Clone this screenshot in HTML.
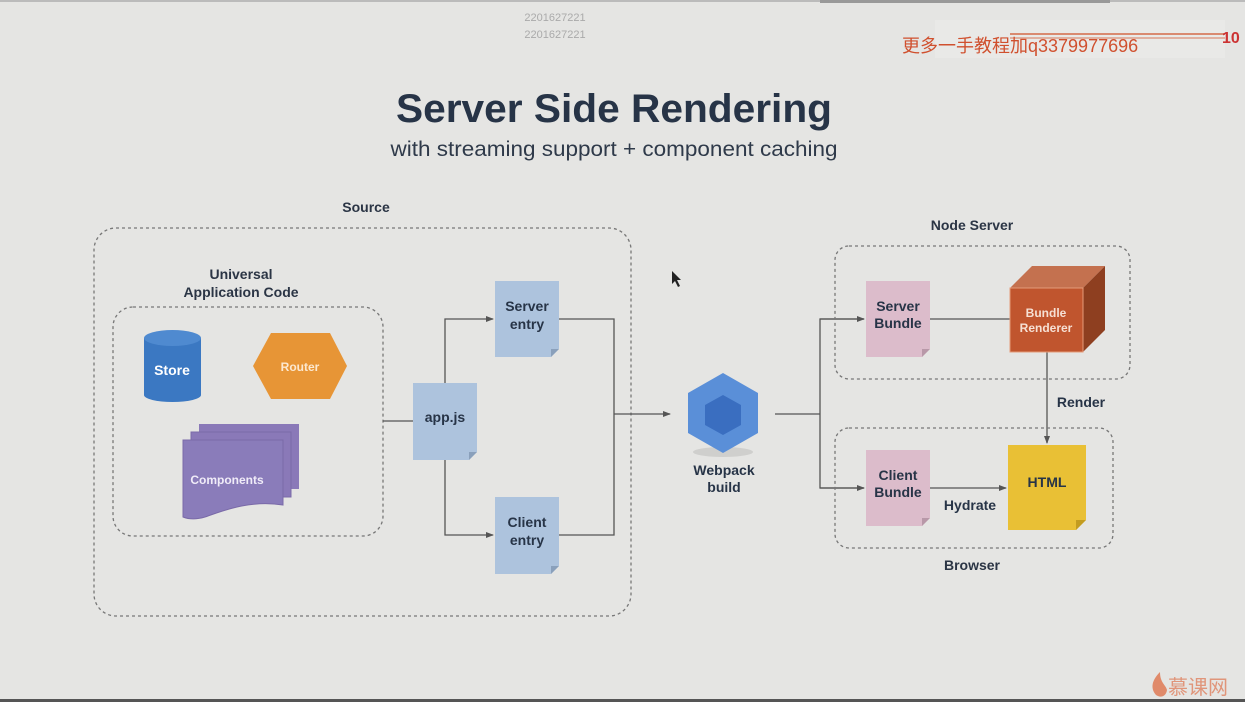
<!DOCTYPE html>
<html><head><meta charset="utf-8"><style>
html,body{margin:0;padding:0;background:#e5e5e3;}
svg{display:block;}
text{font-family:"Liberation Sans","Noto Sans CJK SC",sans-serif;}
</style></head><body>
<svg width="1245" height="702" viewBox="0 0 1245 702" xmlns="http://www.w3.org/2000/svg">
<defs>
<marker id="ar" markerWidth="8" markerHeight="8" refX="7" refY="4" orient="auto" markerUnits="userSpaceOnUse"><path d="M0,1 L8,4 L0,7 z" fill="#555"/></marker>
</defs>
<rect width="1245" height="702" fill="#e5e5e3"/>
<rect x="0" y="0" width="1245" height="2" fill="#bbb"/>
<rect x="820" y="0" width="290" height="3" fill="#999"/>
<rect x="0" y="699" width="1245" height="3" fill="#555"/>
<!-- top watermarks -->
<text x="555" y="21" font-size="11" fill="#aaa" text-anchor="middle" font-family="Liberation Serif,serif">2201627221</text>
<text x="555" y="38" font-size="11" fill="#aaa" text-anchor="middle" font-family="Liberation Serif,serif">2201627221</text>
<rect x="935" y="20" width="290" height="38" fill="#e9e9e7"/>
<line x1="1010" y1="34" x2="1225" y2="34" stroke="#d98a70" stroke-width="2"/>
<line x1="1010" y1="38" x2="1225" y2="38" stroke="#e0b0a0" stroke-width="2"/>
<text x="902" y="52" font-size="18" fill="#d0502e">更多一手教程加q3379977696</text>
<text x="1222" y="43" font-size="16" fill="#c33" font-weight="bold" font-family="Liberation Serif,serif">10</text>
<!-- title -->
<text x="614" y="122" font-size="40" font-weight="bold" fill="#273447" text-anchor="middle" textLength="436" lengthAdjust="spacingAndGlyphs">Server Side Rendering</text>
<text x="614" y="156" font-size="21" fill="#2f3a4a" text-anchor="middle" textLength="447" lengthAdjust="spacingAndGlyphs">with streaming support + component caching</text>
<!-- Source -->
<text x="366" y="212" font-size="14" font-weight="bold" fill="#2b3545" text-anchor="middle">Source</text>
<rect x="94" y="228" width="537" height="388" rx="22" fill="none" stroke="#777" stroke-width="1.3" stroke-dasharray="3,3"/>
<text x="241" y="279" font-size="14" font-weight="bold" fill="#2b3545" text-anchor="middle">Universal</text>
<text x="241" y="297" font-size="14" font-weight="bold" fill="#2b3545" text-anchor="middle">Application Code</text>
<rect x="113" y="307" width="270" height="229" rx="20" fill="none" stroke="#777" stroke-width="1.3" stroke-dasharray="3,3"/>
<!-- store -->
<path d="M144,338 L144,395 A28.5,7 0 0 0 201,395 L201,338 Z" fill="#3b78c2"/>
<ellipse cx="172.5" cy="338" rx="28.5" ry="8" fill="#4f8ad0"/>
<text x="172" y="375" font-size="14" font-weight="bold" fill="#fff" text-anchor="middle">Store</text>
<!-- router -->
<polygon points="253,366 271,333 330,333 347,366 330,399 271,399" fill="#e79536"/>
<text x="300" y="371" font-size="12" font-weight="bold" fill="#fce8d0" text-anchor="middle">Router</text>
<!-- components -->
<rect x="199" y="424" width="100" height="65" fill="#8a79b8"/>
<rect x="191" y="432" width="100" height="65" fill="#8a79b8" stroke="#7a6aa8" stroke-width="1"/>
<path d="M183,440 L283,440 L283,505 C250,500 225,510 205,517 C195,520 188,519 183,517 Z" fill="#8a7cba" stroke="#7a6aa8" stroke-width="1"/>
<text x="227" y="484" font-size="12" font-weight="bold" fill="#f0ecf8" text-anchor="middle">Components</text>
<!-- connectors left -->
<g stroke="#555" stroke-width="1.3" fill="none">
<line x1="383" y1="421" x2="413" y2="421"/>
<polyline points="445,383 445,319 493,319" marker-end="url(#ar)"/>
<polyline points="445,460 445,535 493,535" marker-end="url(#ar)"/>
<polyline points="559,319 614,319 614,535 559,535"/>
<line x1="614" y1="414" x2="670" y2="414" marker-end="url(#ar)"/>
<line x1="775" y1="414" x2="820" y2="414"/>
<polyline points="864,319 820,319 820,488 864,488"/>
<line x1="820" y1="319" x2="864" y2="319" marker-end="url(#ar)"/>
<line x1="820" y1="488" x2="864" y2="488" marker-end="url(#ar)"/>
<line x1="930" y1="319" x2="1010" y2="319"/>
<line x1="1047" y1="352" x2="1047" y2="443" marker-end="url(#ar)"/>
<line x1="930" y1="488" x2="1006" y2="488" marker-end="url(#ar)"/>
</g>
<!-- doc boxes -->
<g>
<path d="M413,383 L477,383 L477,452 L469,460 L413,460 Z" fill="#adc3dd"/>
<path d="M469,460 L477,452 L469,452 Z" fill="#8aa0bb"/>
<text x="445" y="422" font-size="14" font-weight="bold" fill="#273447" text-anchor="middle">app.js</text>
<path d="M495,281 L559,281 L559,349 L551,357 L495,357 Z" fill="#adc3dd"/>
<path d="M551,357 L559,349 L551,349 Z" fill="#8aa0bb"/>
<text x="527" y="311" font-size="14" font-weight="bold" fill="#273447" text-anchor="middle">Server</text>
<text x="527" y="329" font-size="14" font-weight="bold" fill="#273447" text-anchor="middle">entry</text>
<path d="M495,497 L559,497 L559,566 L551,574 L495,574 Z" fill="#adc3dd"/>
<path d="M551,574 L559,566 L551,566 Z" fill="#8aa0bb"/>
<text x="527" y="527" font-size="14" font-weight="bold" fill="#273447" text-anchor="middle">Client</text>
<text x="527" y="545" font-size="14" font-weight="bold" fill="#273447" text-anchor="middle">entry</text>
</g>
<!-- webpack -->
<ellipse cx="723" cy="452" rx="30" ry="5" fill="#cfcfcd"/>
<polygon points="723,373 758,393 758,433 723,453 688,433 688,393" fill="#5a8fd8"/>
<polygon points="723,395 741,405 741,425 723,435 705,425 705,405" fill="#3a6ec0"/>
<text x="724" y="475" font-size="14" font-weight="bold" fill="#273447" text-anchor="middle">Webpack</text>
<text x="724" y="492" font-size="14" font-weight="bold" fill="#273447" text-anchor="middle">build</text>
<!-- node server -->
<text x="972" y="230" font-size="14" font-weight="bold" fill="#2b3545" text-anchor="middle">Node Server</text>
<rect x="835" y="246" width="295" height="133" rx="14" fill="none" stroke="#777" stroke-width="1.3" stroke-dasharray="3,3"/>
<path d="M866,281 L930,281 L930,349 L922,357 L866,357 Z" fill="#dcbccb"/>
<path d="M922,357 L930,349 L922,349 Z" fill="#b898a8"/>
<text x="898" y="311" font-size="14" font-weight="bold" fill="#273447" text-anchor="middle">Server</text>
<text x="898" y="328" font-size="14" font-weight="bold" fill="#273447" text-anchor="middle">Bundle</text>
<polygon points="1010,288 1032,266 1105,266 1083,288" fill="#c4714f"/>
<polygon points="1083,288 1105,266 1105,330 1083,352" fill="#8e3f20"/>
<rect x="1010" y="288" width="73" height="64" fill="#c0552e" stroke="#e59a78" stroke-width="1"/>
<text x="1046" y="317" font-size="12" font-weight="bold" fill="#f6e0d4" text-anchor="middle">Bundle</text>
<text x="1046" y="332" font-size="12" font-weight="bold" fill="#f6e0d4" text-anchor="middle">Renderer</text>
<text x="1081" y="407" font-size="14" font-weight="bold" fill="#273447" text-anchor="middle">Render</text>
<!-- browser -->
<rect x="835" y="428" width="278" height="120" rx="14" fill="none" stroke="#777" stroke-width="1.3" stroke-dasharray="3,3"/>
<text x="972" y="570" font-size="14" font-weight="bold" fill="#2b3545" text-anchor="middle">Browser</text>
<path d="M866,450 L930,450 L930,518 L922,526 L866,526 Z" fill="#dcbccb"/>
<path d="M922,526 L930,518 L922,518 Z" fill="#b898a8"/>
<text x="898" y="480" font-size="14" font-weight="bold" fill="#273447" text-anchor="middle">Client</text>
<text x="898" y="497" font-size="14" font-weight="bold" fill="#273447" text-anchor="middle">Bundle</text>
<path d="M1008,445 L1086,445 L1086,520 L1076,530 L1008,530 Z" fill="#e9c035"/>
<path d="M1076,530 L1086,520 L1076,520 Z" fill="#c39c20"/>
<text x="1047" y="487" font-size="14" font-weight="bold" fill="#273447" text-anchor="middle">HTML</text>
<text x="970" y="510" font-size="14" font-weight="bold" fill="#273447" text-anchor="middle">Hydrate</text>
<!-- cursor -->
<path d="M672,271 L672,284 L675,281 L678,287 L680,286 L677,280 L681,280 Z" fill="#222"/>
<!-- logo -->
<path d="M1160,672 C1152,680 1150,688 1156,695 C1160,698 1166,697 1167,690 C1166,685 1160,683 1160,672 Z" fill="#e08a6a"/>
<text x="1168" y="694" font-size="20" fill="#e0957a" font-family="Noto Sans CJK SC,sans-serif">慕课网</text>
</svg>
</body></html>
